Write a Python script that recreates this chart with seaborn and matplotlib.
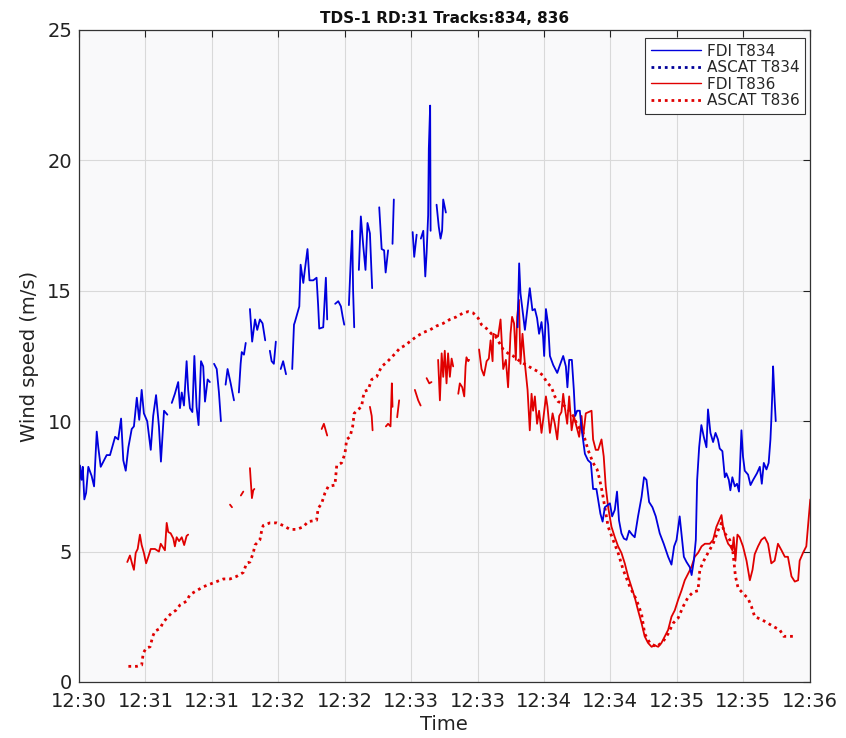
import numpy as np
import pandas as pd
import matplotlib
matplotlib.use("Agg")
import matplotlib.pyplot as plt
from matplotlib.lines import Line2D
import seaborn as sns

nan = np.nan

# Time in seconds after 12:30:00, wind speed in m/s; nan marks a gap in the track
fdi834_t = [0.0, 0.45, 1.2, 1.7, 2.4, 3.2, 4.2, 5.7, 6.8, 8.0, 8.7, 9.8, 12.5, 14.0, 16.3, 17.7, 19.0, 20.0,
            21.1, 22.3, 23.8, 24.8, 26.1, 27.2, 28.3, 29.3, 30.8, 32.4, 33.5, 34.8, 36.1, 37.0, 38.4, 39.9, nan,
            41.9, 43.3, 44.8, 45.6, 46.4, 47.4, 48.6, 49.3, 50.1, 51.2, 52.1, 53.1, 54.0, 55.1, 56.1, 56.9, 58.1, 59.1, nan,
            61.0, 62.2, 63.2, 64.1, nan,
            66.2, 67.1, 68.5, 70.0, nan,
            72.2, 73.0, 73.5, 74.5, 75.3, nan,
            77.2, 78.2, 79.5, 80.5, 81.7, 82.9, 84.1, nan,
            86.2, 87.0, 88.0, 88.9, nan,
            91.1, 92.2, 93.5, nan,
            96.3, 97.1, 97.5, 99.5, 100.1, 101.3, 102.0, 103.2, 104.1, 105.8, 107.3, 108.0, 108.5, 110.3, 111.5, 112.1, nan,
            115.7, 117.1, 118.3, 119.1, 119.8, nan,
            121.9, 122.8, 123.4, 123.8, 124.3, nan,
            126.4, 127.3, 128.4, 129.4, 130.3, 131.4, 132.4, nan,
            135.6, 136.7, 137.8, 138.5, 139.6, nan,
            141.6, 142.2, nan,
            150.7, 151.4, 152.5, nan,
            154.4, 155.5, 156.4, 157.0, 157.7, 158.0, 158.6, 158.8, nan,
            161.5, 162.5, 163.3, 164.0, 164.5, 165.7, nan,
            198.1, 198.8, 199.4, 201.4, 203.6, 204.8, 205.9, 206.9, 207.8, 208.9, 209.6, 210.1, 210.9, 211.9, 212.7,
            214.2, 216.0, 217.2, 218.7, 219.9, 220.6, 221.4, 222.6, 223.5, 224.1, 225.0, 226.2, 227.1, 228.5, 229.9,
            231.2, 232.2, 233.7, 235.5, 236.5, 237.5, 239.8, 240.8, 242.0, 243.0, 243.9, 245.0, 246.1, 247.3, 248.5,
            249.8, 251.0, 252.5, 254.1, 255.2, 256.3, 257.5, 259.0, 260.5, 262.3, 264.1, 266.1, 267.6, 268.8, 269.9,
            271.3, 272.1, 273.2, 274.4, 275.9, 276.7, 277.7, 278.6, 279.2, 280.1, 281.1, 282.2, 283.4, 284.1, 285.2,
            286.4, 287.5, 288.6, 289.4, 290.6, 291.7, 292.4, 293.5, 294.2, 295.1, 296.2, 297.2, 298.1, 299.2, 299.9,
            300.7, 302.2, 303.3, 304.5, 306.2, 307.5, 308.4, 309.3, 310.5, 311.5, 312.3, 312.7, 313.2, 313.5, 314.2, 314.7]
fdi834_v = [6.9, 8.3, 7.75, 8.25, 7.0, 7.25, 8.25, 7.9, 7.5, 9.6, 9.0, 8.25, 8.7, 8.7, 9.4, 9.3, 10.1, 8.5,
            8.1, 9.0, 9.7, 9.8, 10.9, 10.05, 11.2, 10.3, 10.0, 8.9, 10.2, 11.0, 9.8, 8.45, 10.4, 10.25, nan,
            10.7, 11.05, 11.5, 10.5, 11.1, 10.6, 12.3, 11.2, 10.5, 10.35, 12.5, 10.55, 9.85, 12.3, 12.1, 10.75, 11.6, 11.5, nan,
            12.2, 12.0, 11.1, 10.0, nan,
            11.4, 12.0, 11.45, 10.8, nan,
            11.1, 12.2, 12.65, 12.55, 13.0, nan,
            14.3, 13.05, 13.9, 13.5, 13.9, 13.75, 13.1, nan,
            12.7, 12.3, 12.2, 13.05, nan,
            12.0, 12.3, 11.8, nan,
            12.0, 13.7, 13.8, 14.4, 16.0, 15.3, 15.8, 16.6, 15.4, 15.4, 15.5, 14.45, 13.55, 13.6, 15.5, 13.9, nan,
            14.5, 14.6, 14.4, 14.0, 13.7, nan,
            14.45, 16.3, 17.3, 15.0, 13.6, nan,
            15.8, 17.85, 16.7, 15.8, 17.6, 17.2, 15.1, nan,
            18.2, 16.6, 16.55, 15.7, 16.55, nan,
            16.8, 18.5, nan,
            17.25, 16.3, 17.15, nan,
            17.0, 17.3, 15.55, 16.45, 17.9, 20.45, 22.1, 17.3, nan,
            18.3, 17.45, 17.0, 17.3, 18.5, 18.0, nan,
            13.6, 16.05, 14.9, 13.5, 15.1, 14.25, 14.3, 13.95, 13.35, 13.8, 13.25, 12.5, 14.3, 13.7, 12.5,
            12.15, 11.85, 12.15, 12.5, 12.1, 11.3, 12.35, 12.35, 11.2, 10.2, 10.4, 10.4, 9.65, 8.75, 8.5,
            8.4, 7.4, 7.4, 6.45, 6.15, 6.7, 6.85, 6.35, 6.6, 7.3, 6.2, 5.7, 5.5, 5.45, 5.8,
            5.65, 5.55, 6.35, 7.1, 7.85, 7.75, 6.9, 6.7, 6.35, 5.7, 5.3, 4.8, 4.5, 5.2, 5.45,
            6.35, 5.7, 4.8, 4.6, 4.4, 4.1, 4.65, 5.45, 7.75, 9.0, 9.85, 9.4, 9.0, 10.45, 9.55,
            9.2, 9.55, 9.3, 8.95, 8.85, 7.85, 8.0, 7.75, 7.35, 7.85, 7.5, 7.6, 7.3, 9.65, 8.65,
            8.1, 7.95, 7.55, 7.75, 8.0, 8.25, 7.6, 8.4, 8.15, 8.4, 9.3, 10.05, 11.2, 12.1, 10.8, 10.0]

ascat834_t = []
ascat834_v = []

fdi836_t = [21.8, 23.0, 24.1, 24.8, 25.6, 26.5, 27.5, 28.3, 29.3, 30.3, 31.3, 32.4, 34.3, 36.1, 36.9, 38.8, 39.6,
            40.3, 41.4, 42.6, 43.3, 44.1, 45.2, 46.4, 47.5, 48.6, 49.3, nan,
            68.2, 69.1, nan,
            73.1, 74.2, nan,
            77.2, 77.5, 78.1, 78.7, 79.2, nan,
            109.6, 110.6, 112.1, nan,
            131.4, 132.2, 132.6, nan,
            138.6, 139.6, 140.7, 141.3, 141.6, nan,
            143.7, 144.6, nan,
            151.7, 153.2, 154.3, nan,
            157.0, 158.2, 159.2, nan,
            162.2, 163.0, 163.8, 164.5, 165.2, 166.0, 166.7, 167.5, 168.3, 169.0, nan,
            171.3, 172.0, 173.1, 174.0, 174.6, 175.0, 175.8, 176.2, nan,
            180.7, 181.8, 182.9, 184.1, 185.1, 185.9, 186.8, 187.1, 189.3, 190.4, 191.6, 192.8, 193.8, 194.9, 195.6,
            196.5, 197.3, 197.9, 198.7, 199.4, 200.3, 201.4, 202.6, 203.6, 204.4, 205.1, 205.9, 206.9, 207.8, 208.9,
            210.0, 210.9, 211.6, 212.7, 213.9, 214.9, 216.0, 216.9, 217.9, 218.7, 219.4, 220.5, 221.4, 222.5, 223.5,
            224.7, 225.9, 227.0, 227.7, 228.9, 231.5, 232.2, 233.4, 234.5, 236.0, 237.0, 237.9, 239.0, 240.5, 242.0,
            243.5, 245.0, 246.5, 248.0, 249.5, 251.0, 252.5, 254.1, 255.5, 257.0, 258.6, 260.1, 261.6, 263.1, 264.6,
            266.1, 267.6, 269.1, 270.6, 272.1, 273.6, 275.1, 276.6, 278.1, 279.6, 281.2, 282.7, 284.9, 286.4, 287.9,
            290.2, 290.9, 292.1, 293.2, 294.2, 295.1, 295.7, 296.5, 297.4, 298.4, 299.9, 301.5, 303.0, 304.2, 305.2,
            306.7, 308.2, 309.7, 311.2, 312.7, 314.2, 315.7, 317.3, 318.8, 320.2, 321.8, 323.3, 324.8, 325.5, 327.0,
            328.5, 329.4, 330.3]
fdi836_v = [4.6, 4.85, 4.5, 4.3, 4.95, 5.1, 5.65, 5.25, 4.95, 4.55, 4.8, 5.1, 5.1, 5.0, 5.3, 5.05, 6.1,
            5.75, 5.7, 5.5, 5.2, 5.55, 5.4, 5.55, 5.25, 5.6, 5.65, nan,
            6.8, 6.7, nan,
            7.15, 7.3, nan,
            8.2, 7.8, 7.05, 7.35, 7.4, nan,
            9.7, 9.9, 9.45, nan,
            10.55, 10.2, 9.65, nan,
            9.8, 9.9, 9.8, 11.45, 10.55, nan,
            10.15, 10.8, nan,
            11.2, 10.8, 10.6, nan,
            11.65, 11.45, 11.5, nan,
            12.35, 10.8, 12.6, 11.7, 12.7, 11.45, 12.6, 11.7, 12.4, 12.1, nan,
            11.05, 11.45, 11.3, 10.95, 12.1, 12.45, 12.3, 12.35, nan,
            12.75, 12.0, 11.75, 12.3, 12.4, 13.1, 12.3, 13.35, 13.25, 13.9, 12.0, 12.35, 11.3, 13.35, 14.0,
            13.75, 12.35, 14.0, 14.65, 12.2, 13.35, 12.2, 11.2, 9.65, 11.05, 10.4, 10.95, 9.9, 10.4, 9.55,
            10.3, 10.95, 10.55, 9.55, 10.3, 9.9, 9.3, 10.2, 10.35, 11.05, 10.55, 9.9, 10.95, 9.65, 10.2,
            9.8, 9.4, 10.2, 9.4, 10.3, 10.4, 9.3, 8.9, 8.9, 9.3, 8.65, 7.5, 6.7, 5.95, 5.55,
            5.2, 4.95, 4.55, 4.05, 3.65, 3.25, 2.75, 2.25, 1.75, 1.5, 1.35, 1.4, 1.35, 1.5, 1.75,
            2.0, 2.5, 2.75, 3.15, 3.5, 3.9, 4.15, 4.4, 4.8, 4.95, 5.2, 5.3, 5.3, 5.45, 5.95,
            6.4, 5.95, 5.55, 5.3, 5.2, 5.05, 5.55, 4.65, 5.65, 5.55, 5.2, 4.65, 3.9, 4.3, 4.9,
            5.2, 5.45, 5.55, 5.3, 4.55, 4.65, 5.3, 5.05, 4.8, 4.8, 4.05, 3.85, 3.9, 4.65, 4.95,
            5.2, 6.1, 7.0]

ascat836_t = [22.3, 26.1, 28.3, 29.0, 30.3, 32.1, 33.3, 34.3, 36.6, 37.8, 39.6, 41.9, 43.8, 45.6, 48.6, 50.1,
              53.1, 56.1, 59.1, 62.2, 65.2, 68.2, 71.2, 74.2, 75.7, 77.2, 78.7, 79.5, 81.7, 82.5, 83.2, 86.2,
              89.3, 92.2, 95.3, 98.3, 101.3, 103.5, 107.3, 108.0, 109.6, 111.1, 112.6, 115.6, 116.4, 118.6, 120.1,
              120.9, 122.4, 123.6, 124.3, 126.1, 127.6, 128.4, 129.1, 130.6, 132.2, 134.4, 136.7, 138.9, 141.2,
              143.4, 144.9, 147.2, 149.4, 152.5, 155.5, 158.5, 161.5, 164.5, 167.5, 170.5, 173.5, 175.8, 178.0,
              180.3, 181.8, 184.1, 186.3, 187.8, 191.6, 193.8, 196.1, 199.1, 202.1, 205.1, 207.4, 209.6, 211.2,
              213.4, 214.9, 216.4, 217.9, 221.4, 223.2, 225.4, 227.7, 229.9, 232.2, 234.0, 235.2, 236.4, 239.0,
              241.2, 243.5, 245.8, 248.8, 251.8, 254.1, 255.5, 257.8, 260.8, 263.8, 266.1, 268.3, 270.6, 272.9,
              275.1, 277.4, 279.6, 280.4, 282.2, 284.1, 286.4, 288.6, 290.2, 291.7, 293.9, 295.4, 296.5, 297.7,
              299.9, 302.2, 303.7, 305.2, 308.2, 311.2, 314.2, 316.5, 318.3, 322.5]
ascat836_v = [0.6, 0.6, 0.65, 1.1, 1.3, 1.35, 1.75, 1.95, 2.05, 2.25, 2.45, 2.65, 2.75, 2.95, 3.1, 3.35,
              3.5, 3.65, 3.75, 3.85, 3.95, 3.95, 4.05, 4.2, 4.55, 4.6, 4.95, 5.25, 5.45, 5.8, 6.0, 6.1,
              6.1, 6.0, 5.85, 5.85, 5.95, 6.15, 6.2, 6.65, 6.85, 7.25, 7.5, 7.55, 8.3, 8.4, 8.75,
              9.3, 9.4, 9.8, 10.3, 10.45, 10.55, 10.95, 11.15, 11.2, 11.6, 11.7, 12.1, 12.25, 12.45,
              12.65, 12.8, 12.9, 13.05, 13.25, 13.4, 13.5, 13.65, 13.75, 13.9, 14.0, 14.15, 14.2, 14.15,
              13.95, 13.7, 13.55, 13.35, 13.3, 12.75, 12.6, 12.5, 12.3, 12.15, 12.0, 11.9, 11.75, 11.5,
              11.3, 10.95, 10.75, 10.7, 10.4, 10.2, 9.8, 9.55, 8.9, 8.4, 8.15, 7.75, 7.25, 5.95,
              5.45, 4.95, 4.3, 3.65, 3.15, 2.6, 1.85, 1.5, 1.35, 1.55, 1.85, 2.25, 2.45, 2.9,
              3.25, 3.45, 3.5, 4.3, 4.65, 4.95, 5.3, 5.8, 6.1, 5.7, 5.45, 4.95, 4.05, 3.6,
              3.4, 3.2, 2.9, 2.5, 2.4, 2.25, 2.1, 2.0, 1.75, 1.75]

tick_seconds = [0, 30, 60, 90, 120, 150, 180, 210, 240, 270, 300, 330]
tick_labels = ['12:30', '12:31', '12:31', '12:32', '12:32', '12:33', '12:33',
               '12:34', '12:34', '12:35', '12:35', '12:36']
series_names = ['FDI T834', 'ASCAT T834', 'FDI T836', 'ASCAT T836']


def to_frame(t, v):
    df = pd.DataFrame({'t': np.asarray(t, dtype=float), 'v': np.asarray(v, dtype=float)})
    df['seg'] = df['v'].isna().cumsum()
    return df.dropna()


sns.set_theme(style="whitegrid")
plt.rcParams['font.family'] = ['DejaVu Sans']

fig = plt.figure(figsize=(8.46, 7.38), dpi=100)
ax = fig.add_axes([0.0934, 0.0759, 0.8636, 0.8835])
ax.set_facecolor('#f9f9fa')

blue = '#0000dd'
red = '#e00000'
dotted = (0, (1.0, 1.4))

styles = {
    'FDI T834': dict(color=blue, lw=1.3, ls='-'),
    'ASCAT T834': dict(color='#000099', lw=2.0, ls=dotted),
    'FDI T836': dict(color=red, lw=1.3, ls='-'),
    'ASCAT T836': dict(color=red, lw=2.0, ls=dotted),
}
data = {
    'FDI T834': (fdi834_t, fdi834_v),
    'ASCAT T834': (ascat834_t, ascat834_v),
    'FDI T836': (fdi836_t, fdi836_v),
    'ASCAT T836': (ascat836_t, ascat836_v),
}

for name in ['ASCAT T836', 'FDI T836', 'ASCAT T834', 'FDI T834']:
    t, v = data[name]
    df = to_frame(t, v)
    if len(df) == 0:
        continue
    st = styles[name]
    sns.lineplot(data=df, x='t', y='v', units='seg', estimator=None, ax=ax,
                 color=st['color'], linewidth=st['lw'], linestyle=st['ls'], legend=False)

handles = [Line2D([], [], color=styles[n]['color'], lw=1.0 if n.startswith('FDI') else 2.0,
                  ls=styles[n]['ls']) for n in series_names]
leg = ax.legend(handles, series_names, loc='upper right', fontsize=11, frameon=True,
                fancybox=False, framealpha=1, edgecolor='#333333', handlelength=3.3,
                borderpad=0.35, labelspacing=0.1, handletextpad=0.4, borderaxespad=0.0,
                bbox_to_anchor=(0.994, 0.987))
leg.get_frame().set_linewidth(0.8)

ax.set_xlim(0, 330)
ax.set_ylim(0, 25)
ax.set_xticks(tick_seconds)
ax.set_xticklabels(tick_labels)
ax.set_yticks([0, 5, 10, 15, 20, 25])
ax.tick_params(axis='both', labelsize=14, colors='#222222', direction='in', length=5,
               top=True, right=True, width=0.8)
ax.tick_params(axis='x', pad=7)
ax.tick_params(axis='y', pad=5)
ax.grid(True, color='#d9d9d9', linewidth=0.8)
for s in ax.spines.values():
    s.set_color('#333333')
    s.set_linewidth(0.9)
ax.set_xlabel('Time', fontsize=14, color='#222222', labelpad=3)
ax.set_ylabel('Wind speed (m/s)', fontsize=14, color='#222222', labelpad=6)
ax.set_title('TDS-1 RD:31 Tracks:834, 836', fontsize=11, fontweight='bold', color='#111111', pad=5)

fig.savefig('out.png', dpi=100, facecolor='white')
